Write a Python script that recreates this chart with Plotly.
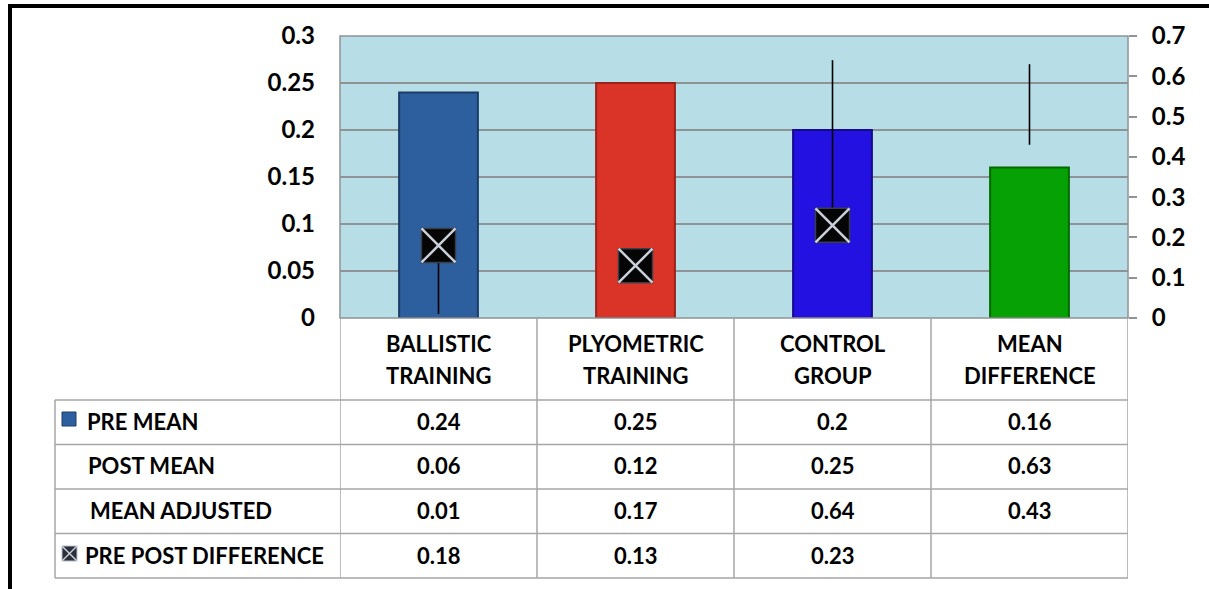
import plotly.graph_objects as go

# ---------------- data ----------------
categories = ["BALLISTIC TRAINING", "PLYOMETRIC TRAINING", "CONTROL GROUP", "MEAN DIFFERENCE"]
pre_mean = [0.24, 0.25, 0.2, 0.16]
post_mean = [0.06, 0.12, 0.25, 0.63]
mean_adjusted = [0.01, 0.17, 0.64, 0.43]
pre_post_difference = [0.18, 0.13, 0.23, None]
row_labels = ["PRE MEAN", "POST MEAN", "MEAN ADJUSTED", "PRE POST DIFFERENCE"]
left_ticks = [0, 0.05, 0.1, 0.15, 0.2, 0.25, 0.3]
right_ticks = [0, 0.1, 0.2, 0.3, 0.4, 0.5, 0.6, 0.7]

# ---------------- styles ----------------
bar_colors = ["#2D5F9F", "#D93427", "#2311E2", "#05A105"]
bar_edges = ["#1C3C68", "#9A2219", "#150A8E", "#036A03"]
FONT = "Lato"
W, H = 1209, 589
L, R, T, B = 340, 1128, 36, 318  # plot area in pixels
GRID = "#8E9396"
TABLE = "#A6A6A6"


def px(x):
    return (x - L) / (R - L)


def py(y):
    return (B - y) / (B - T)


fig = go.Figure()

fig.add_trace(go.Bar(
    x=categories, y=pre_mean, width=0.40,
    marker=dict(color=bar_colors, line=dict(color=bar_edges, width=2)),
    showlegend=False, yaxis="y",
))

# high-low lines (secondary axis)
hl_x, hl_y = [], []
for c, a, b, d in zip(categories, post_mean, mean_adjusted, pre_post_difference):
    vals = [v for v in (a, b, d) if v is not None]
    hl_x += [c, c, None]
    hl_y += [min(vals), max(vals), None]
fig.add_trace(go.Scatter(
    x=hl_x, y=hl_y, mode="lines", line=dict(color="black", width=1.6),
    yaxis="y2", showlegend=False, connectgaps=False,
))

# pre-post difference markers: black square with light X
fig.add_trace(go.Scatter(
    x=categories, y=pre_post_difference, mode="markers",
    marker=dict(symbol="square", size=34, color="#050505",
                line=dict(color="#3A3F47", width=1.5)),
    yaxis="y2", showlegend=False,
))
fig.add_trace(go.Scatter(
    x=categories, y=pre_post_difference, mode="markers",
    marker=dict(symbol="x-thin-open", size=34, color="#C9D0DA",
                line=dict(color="#C9D0DA", width=2.5)),
    yaxis="y2", showlegend=False,
))

tickfont = dict(family=FONT, size=24, color="black", weight="bold")

shapes = []
# plot area border
shapes.append(dict(type="rect", xref="paper", yref="paper", x0=0, x1=1, y0=0, y1=1,
                   line=dict(color=GRID, width=1.5), layer="above"))

# table lines
row_tops = [400, 444.5, 489, 533.5, 578]
for yv in row_tops:
    shapes.append(dict(type="line", xref="paper", yref="paper",
                       x0=px(55), x1=1, y0=py(yv), y1=py(yv),
                       line=dict(color=TABLE, width=1.5)))
for xv in [-0.5, 0.5, 1.5, 2.5, 3.5]:
    shapes.append(dict(type="line", xref="x", yref="paper",
                       x0=xv, x1=xv, y0=0, y1=py(578),
                       line=dict(color=TABLE, width=1.5)))
shapes.append(dict(type="line", xref="paper", yref="paper",
                   x0=px(55), x1=px(55), y0=py(400), y1=py(578),
                   line=dict(color=TABLE, width=1.5)))

# legend keys
shapes.append(dict(type="rect", xref="paper", yref="paper",
                   x0=px(62), x1=px(76), y0=py(426), y1=py(412),
                   fillcolor=bar_colors[0], line=dict(color=bar_edges[0], width=1)))
shapes.append(dict(type="rect", xref="paper", yref="paper",
                   x0=px(62), x1=px(77), y0=py(561), y1=py(546),
                   fillcolor="#2A2F3A", line=dict(color="#B8C0CC", width=1)))
shapes.append(dict(type="line", xref="paper", yref="paper",
                   x0=px(62), x1=px(77), y0=py(561), y1=py(546),
                   line=dict(color="#C9D0DA", width=1.5)))
shapes.append(dict(type="line", xref="paper", yref="paper",
                   x0=px(62), x1=px(77), y0=py(546), y1=py(561),
                   line=dict(color="#C9D0DA", width=1.5)))

# outer frame (thick black)
shapes.append(dict(type="line", xref="paper", yref="paper",
                   x0=px(8), x1=px(W + 5), y0=py(6), y1=py(6),
                   line=dict(color="black", width=4)))
shapes.append(dict(type="line", xref="paper", yref="paper",
                   x0=px(10), x1=px(10), y0=py(6), y1=py(H + 5),
                   line=dict(color="black", width=4)))

annotations = []
cellfont = dict(family=FONT, size=22, color="black", weight="bold")
# header (two lines per category)
for c in categories:
    first, second = c.split(" ", 1)
    for txt, yc in ((first, 343), (second, 375)):
        annotations.append(dict(xref="x", yref="paper", x=c, y=py(yc),
                                text=txt, showarrow=False,
                                font=cellfont, xanchor="center", yanchor="middle"))
rows = [pre_mean, post_mean, mean_adjusted, pre_post_difference]
row_centers = [421, 465.5, 510, 555]
label_x = [85, 86, 88, 83]
for lab, vals, yc, lx in zip(row_labels, rows, row_centers, label_x):
    annotations.append(dict(xref="paper", yref="paper", x=px(lx), y=py(yc),
                            text=lab, showarrow=False, font=cellfont,
                            xanchor="left", yanchor="middle"))
    for c, v in zip(categories, vals):
        if v is None:
            continue
        annotations.append(dict(xref="x", yref="paper", x=c, y=py(yc),
                                text=f"{v:g}", showarrow=False, font=cellfont,
                                xanchor="center", yanchor="middle"))

fig.update_layout(
    width=W, height=H, autosize=False,
    margin=dict(l=L, r=W - R, t=T, b=H - B, pad=0),
    paper_bgcolor="white", plot_bgcolor="#B7DDE7",
    xaxis=dict(type="category", range=[-0.5, 3.5], showticklabels=False,
               showgrid=False, zeroline=False, showline=False, ticks=""),
    yaxis=dict(range=[0, 0.3], tickvals=left_ticks, showgrid=True, gridcolor=GRID,
               gridwidth=1.5, zeroline=False, showline=False, ticks="",
               tickfont=tickfont, ticklabelstandoff=24),
    yaxis2=dict(range=[0, 0.7], tickvals=right_ticks, overlaying="y", side="right",
                showgrid=False, zeroline=False, showline=False, ticks="outside",
                ticklen=8, tickcolor=GRID, tickwidth=1.5, tickfont=tickfont,
                ticklabelstandoff=10),
    shapes=shapes, annotations=annotations,
    showlegend=False,
)

fig.write_html("out.html")
